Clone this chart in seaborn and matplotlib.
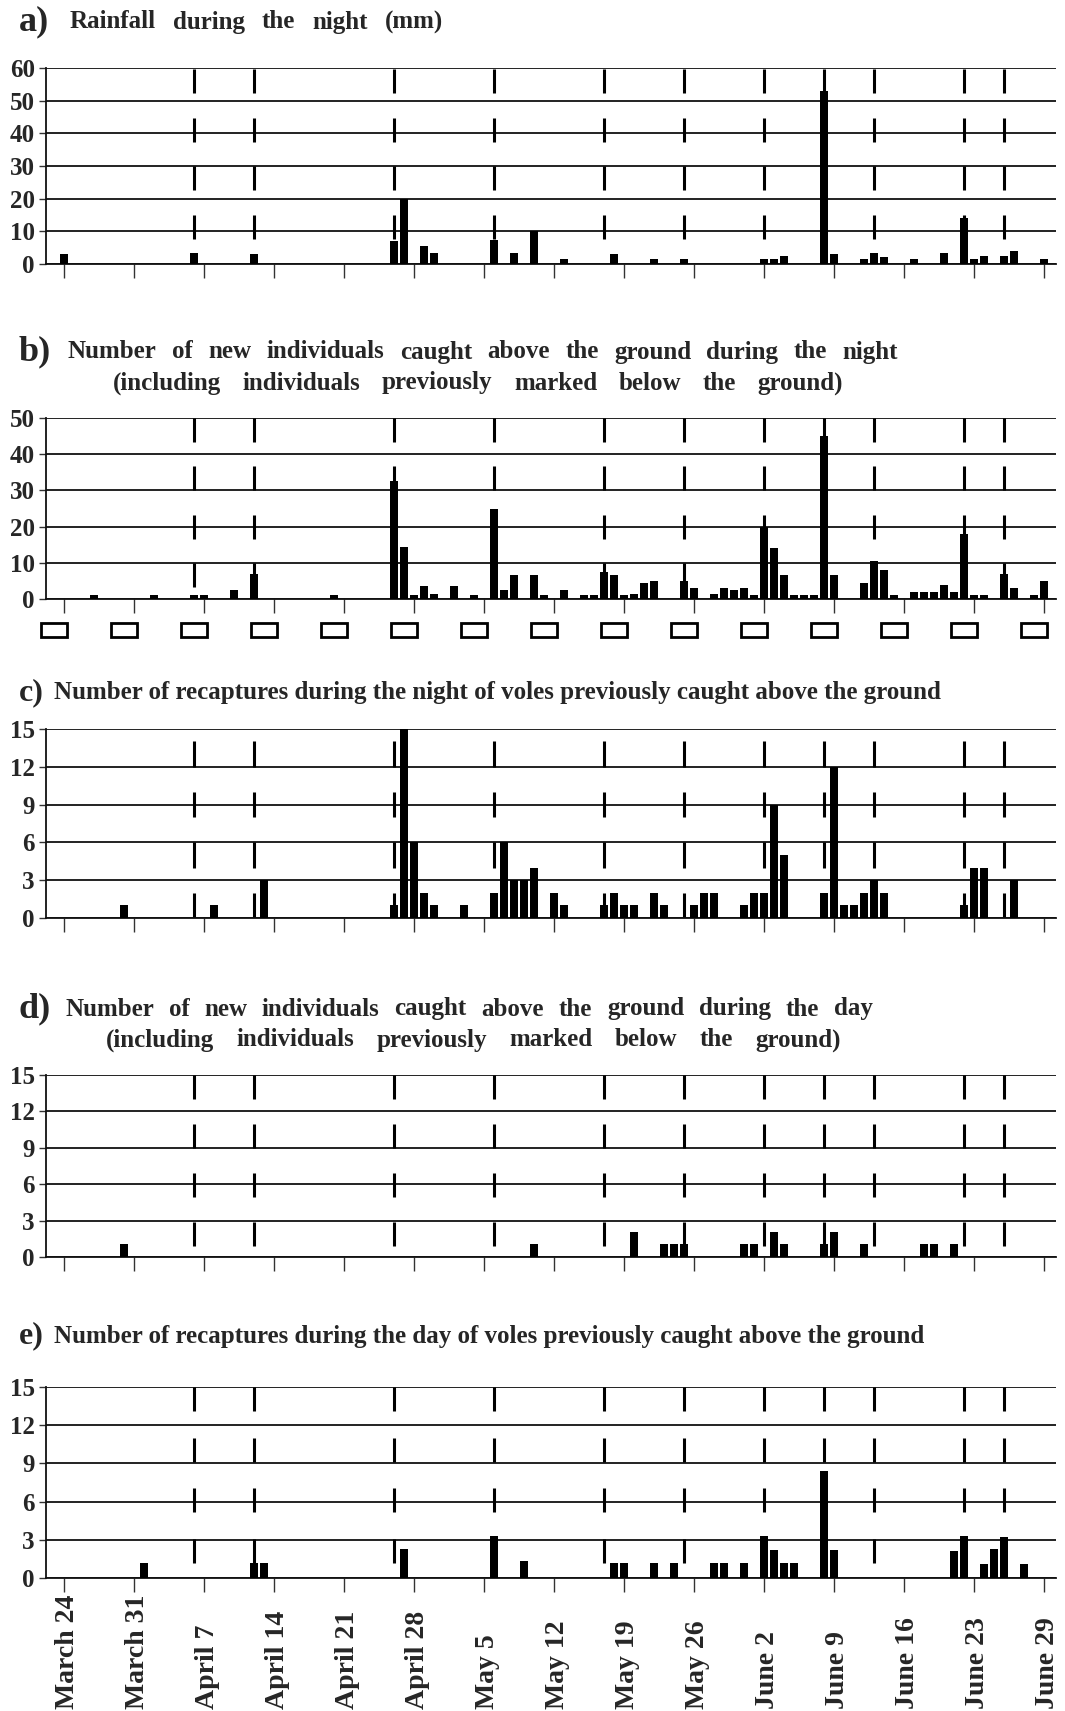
import numpy as np
import pandas as pd
import matplotlib
matplotlib.use('Agg')
import matplotlib.pyplot as plt
from matplotlib.patches import Rectangle
from matplotlib.transforms import blended_transform_factory
import seaborn as sns

# days counted from March 24 (day 0)
n_days = 99
week_labels = ['March 24', 'March 31', 'April 7', 'April 14', 'April 21', 'April 28', 'May 5',
               'May 12', 'May 19', 'May 26', 'June 2', 'June 9', 'June 16', 'June 23', 'June 29']

# short dashed vertical marks
moon_days = [13, 19, 33, 43, 54, 62, 70, 76, 81, 90, 94]
# open rectangles under panel b
trap_days = [-1, 6, 13, 20, 27, 34, 41, 48, 55, 62, 69, 76, 83, 90, 97]

rain_days = [0, 13, 19, 33, 34, 36, 37, 43, 45, 47, 50, 55, 59, 62, 70, 71, 72, 76, 77,
             80, 81, 82, 85, 88, 90, 91, 92, 94, 95, 98]
rain_mm = [3, 3.5, 3, 7, 20, 5.5, 3.5, 7.5, 3.5, 10, 1.5, 3, 1.5, 1.5, 1.5, 1.5, 2.5, 53, 3,
           1.5, 3.5, 2, 1.5, 3.5, 14, 1.5, 2.5, 2.5, 4, 1.5]

night_new_days = [3, 9, 13, 14, 17, 19, 27, 33, 34, 35, 36, 37, 39, 41, 43, 44, 45, 47, 48,
                  50, 52, 53, 54, 55, 56, 57, 58, 59, 62, 63, 65, 66, 67, 68, 69, 70, 71, 72,
                  73, 74, 75, 76, 77, 80, 81, 82, 83, 85, 86, 87, 88, 89, 90, 91, 92, 94, 95,
                  97, 98]
night_new = [1, 1, 1, 1, 2.5, 7, 1, 32.5, 14.5, 1, 3.5, 1.5, 3.5, 1, 25, 2.5, 6.5, 6.5, 1,
             2.5, 1, 1, 7.5, 6.5, 1, 1.5, 4.5, 5, 5, 3, 1.5, 3, 2.5, 3, 1, 20, 14, 6.5,
             1, 1, 1, 45, 6.5, 4.5, 10.5, 8, 1, 2, 2, 2, 4, 2, 18, 1, 1, 7, 3,
             1, 5]

night_recap_days = [6, 15, 20, 33, 34, 35, 36, 37, 40, 43, 44, 45, 46, 47, 49, 50, 54, 55, 56,
                    57, 59, 60, 63, 64, 65, 68, 69, 70, 71, 72, 76, 77, 78, 79, 80, 81, 82,
                    90, 91, 92, 95]
night_recap = [1, 1, 3, 1, 15, 6, 2, 1, 1, 2, 6, 3, 3, 4, 2, 1, 1, 2, 1,
               1, 2, 1, 1, 2, 2, 1, 2, 2, 9, 5, 2, 12, 1, 1, 2, 3, 2,
               1, 4, 4, 3]

day_new_days = [6, 47, 57, 60, 61, 62, 68, 69, 71, 72, 76, 77, 80, 86, 87, 89]
day_new = [1.1, 1.1, 2.1, 1.1, 1.1, 1.1, 1.1, 1.1, 2.1, 1.1, 1.1, 2.1, 1.1, 1.1, 1.1, 1.1]

day_recap_days = [8, 19, 20, 34, 43, 46, 55, 56, 59, 61, 65, 66, 68, 70, 71, 72, 73, 76, 77,
                  89, 90, 92, 93, 94, 96]
day_recap = [1.2, 1.2, 1.2, 2.3, 3.3, 1.3, 1.2, 1.2, 1.2, 1.2, 1.2, 1.2, 1.2, 3.3, 2.2, 1.2,
             1.2, 8.4, 2.2, 2.1, 3.3, 1.1, 2.3, 3.2, 1.1]

sns.set_theme(style='white')
plt.rcParams['font.family'] = ['Liberation Serif', 'DejaVu Serif']
plt.rcParams['font.weight'] = 'bold'

W, H = 1065, 1711
fig = plt.figure(figsize=(W / 100, H / 100), dpi=100)
renderer = fig.canvas.get_renderer()

TITLE_SIZE = 18

def spread(text, x0, x1, y):
    # words spread evenly between x0 and x1 (pixels), like the justified titles
    words = text.split()
    items = [fig.text(0, 1 - y / H, w, fontsize=TITLE_SIZE, fontweight='bold', va='center')
             for w in words]
    widths = [t.get_window_extent(renderer).width for t in items]
    g = (x1 - x0 - sum(widths)) / (len(words) - 1)
    x = x0
    for t, w in zip(items, widths):
        t.set_x(x / W)
        x += w + g

# letter, letter size, title lines (text, x0, x1 or None, y), days, values, ymax, ystep,
# axes top/bottom px, dash offset, dash length, dash period
panels = [
    ('a)', 26, [('Rainfall during the night (mm)', 70, 443, 22)], rain_days, rain_mm, 60, 10,
     (68, 264), 0.005, 0.123, 0.248),
    ('b)', 26, [('Number of new individuals caught above the ground during the night', 68, 898, 352),
                ('(including individuals previously marked below the ground)', 113, 843, 383)],
     night_new_days, night_new, 50, 10, (418, 599), 0.0, 0.132, 0.267),
    ('c)', 23, [('Number of recaptures during the night of voles previously caught above the ground', 54, None, 693)],
     night_recap_days, night_recap, 15, 3, (729, 918), 0.066, 0.133, 0.267),
    ('d)', 26, [('Number of new individuals caught above the ground during the day', 65, 873, 1009),
                ('(including individuals previously marked below the ground)', 106, 841, 1040)],
     day_new_days, day_new, 15, 3, (1075, 1257), 0.0, 0.13, 0.27),
    ('e)', 23, [('Number of recaptures during the day of voles previously caught above the ground', 54, None, 1336)],
     day_recap_days, day_recap, 15, 3, (1387, 1578), 0.0, 0.127, 0.265),
]

left_px, right_px = 46, 1056
axes = []
for letter, lsize, lines, days, vals, ymax, ystep, (top_px, bot_px), off, dash, period in panels:
    ax = fig.add_axes([left_px / W, 1 - bot_px / H, (right_px - left_px) / W, (bot_px - top_px) / H])
    axes.append(ax)
    full = np.zeros(n_days)
    full[days] = vals
    df = pd.DataFrame({'day': np.arange(n_days), 'value': full})
    sns.barplot(data=df, x='day', y='value', native_scale=True, color='black', saturation=1,
                width=0.75, errorbar=None, ax=ax, zorder=3, linewidth=0)
    ax.set_xlim(-1.8, 99.2)
    ax.set_ylim(0, ymax)
    ax.set_yticks(range(0, ymax + 1, ystep))
    ax.set_yticklabels([str(v) for v in range(0, ymax + 1, ystep)], fontsize=18, fontweight='bold')
    ax.set_xticks(range(0, n_days, 7))
    ax.set_xticklabels([])
    ax.set_xlabel('')
    ax.set_ylabel('')
    ax.grid(axis='y', color='#111111', lw=1.3)
    ax.grid(axis='x', visible=False)
    ax.set_axisbelow(True)
    for s in ['top', 'right']:
        ax.spines[s].set_visible(False)
    for s in ['left', 'bottom']:
        ax.spines[s].set_color('#111111')
        ax.spines[s].set_linewidth(1.3)
    ax.tick_params(axis='x', direction='out', length=10, width=1, color='#333', bottom=True)
    ax.tick_params(axis='y', direction='out', length=5, width=1, color='#333', left=True, pad=3)

    tr = ax.get_xaxis_transform()
    for k in range(4):
        y1 = 1 - off - k * period
        ax.vlines(moon_days, y1 - dash, y1, transform=tr, colors='black', lw=2.2, zorder=2)

    fig.text(19 / W, 1 - lines[0][3] / H, letter, fontsize=lsize, fontweight='bold',
             va='center', ha='left')
    for txt, x0, x1, y in lines:
        if x1 is None:
            fig.text(x0 / W, 1 - y / H, txt, fontsize=TITLE_SIZE, fontweight='bold',
                     va='center', ha='left')
        else:
            spread(txt, x0, x1, y)

# open rectangles under panel b
axb = axes[1]
trb = axb.get_xaxis_transform()
hb = (599 - 418)
for d in trap_days:
    axb.add_patch(Rectangle((d - 1.3, -(637 - 599) / hb), 2.6, 14 / hb, transform=trb,
                            fill=False, edgecolor='black', lw=2, clip_on=False))

# rotated date labels under panel e
axe = axes[4]
tre = blended_transform_factory(axe.transData, fig.transFigure)
for i, lab in enumerate(week_labels):
    axe.text(i * 7 + 0.3, 2 / H, lab, transform=tre, rotation=90, ha='center', va='bottom',
             fontsize=20, fontweight='bold')

fig.savefig('out.png', dpi=100)
